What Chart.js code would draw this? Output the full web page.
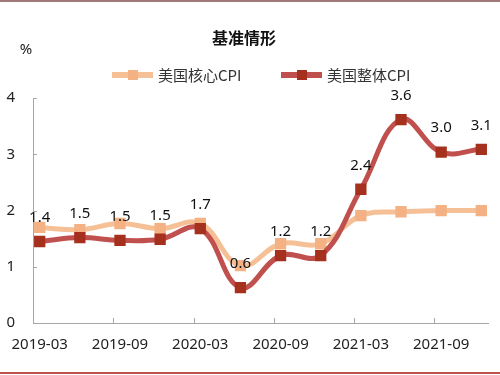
<!DOCTYPE html>
<html>
<head>
<meta charset="utf-8">
<script src="https://cdn.jsdelivr.net/npm/chart.js@4/dist/chart.umd.min.js"></script>
<style>
  html, body { margin: 0; padding: 0; background: #fff; }
  #wrap { width: 500px; height: 375px; }
</style>
</head>
<body>
<div id="wrap"><canvas id="cpi"></canvas></div>
<script>
// quarterly observations
const months = ['2019-03', '2019-06', '2019-09', '2019-12', '2020-03', '2020-06',
                '2020-09', '2020-12', '2021-03', '2021-06', '2021-09', '2021-12'];
const coreCPI = [1.70, 1.66, 1.77, 1.68, 1.77, 1.02, 1.41, 1.41, 1.91, 1.98, 2.00, 2.00];
const headlineCPI = [1.45, 1.52, 1.47, 1.49, 1.68, 0.63, 1.20, 1.20, 2.38, 3.62, 3.04, 3.09];
const headlineLabels = ['1.4', '1.5', '1.5', '1.5', '1.7', '0.6', '1.2', '1.2', '2.4', '3.6', '3.0', '3.1'];
const xTickLabels = ['2019-03', '2019-09', '2020-03', '2020-09', '2021-03', '2021-09'];
const yTicks = [0, 1, 2, 3, 4];

const seriesNames = ['美国核心CPI', '美国整体CPI'];
const coreLine = '#F6C097', coreMark = '#F4B183';
const headLine = '#C0504D', headMark = '#A5301E';
const FONT = "'Noto Sans', 'Noto Sans CJK SC', sans-serif";
const CJK = "'Noto Sans CJK SC', 'Noto Sans', sans-serif";

// months since 2019-03, plotted mid-month
function toMonth(label) {
  const [y, m] = label.split('-').map(Number);
  return (y - 2019) * 12 + (m - 3) + 0.5;
}

const decor = {
  id: 'decor',
  afterDraw(chart) {
    const ctx = chart.ctx;
    const xs = chart.scales.x, ys = chart.scales.y;
    ctx.save();
    // frame lines of the page
    ctx.fillStyle = '#A07878';
    ctx.fillRect(0, 0, 500, 2);
    ctx.fillStyle = '#C0504D';
    ctx.fillRect(0, 372, 500, 2);

    // inward tick marks
    ctx.strokeStyle = '#A6A6A6';
    ctx.lineWidth = 1;
    ctx.beginPath();
    yTicks.forEach(v => {
      const py = Math.round(ys.getPixelForValue(v)) + 0.5;
      ctx.moveTo(xs.left, py);
      ctx.lineTo(xs.left + 4, py);
    });
    xTickLabels.forEach(l => {
      const px = Math.round(xs.getPixelForValue(toMonth(l) - 0.5)) + 0.5;
      ctx.moveTo(px, ys.bottom);
      ctx.lineTo(px, ys.bottom - 5);
    });
    ctx.stroke();

    // unit
    ctx.fillStyle = '#222';
    ctx.font = '15px ' + FONT;
    ctx.textAlign = 'center';
    ctx.textBaseline = 'middle';
    ctx.fillText('%', 26, 50);

    // legend
    const items = [
      { x: 112, line: coreLine, mark: coreMark, text: seriesNames[0] },
      { x: 281, line: headLine, mark: headMark, text: seriesNames[1] }
    ];
    items.forEach(it => {
      const ly = 75;
      ctx.fillStyle = it.line;
      ctx.fillRect(it.x, ly - 3, 41, 6);
      ctx.fillStyle = it.mark;
      ctx.fillRect(it.x + 16, ly - 5, 10, 10);
      ctx.fillStyle = '#333';
      ctx.font = '15px ' + CJK;
      ctx.textAlign = 'left';
      ctx.fillText(it.text, it.x + 46, ly);
    });

    // value labels on the headline series
    const meta = chart.getDatasetMeta(0);
    ctx.fillStyle = '#111';
    ctx.font = '15px ' + FONT;
    ctx.textAlign = 'center';
    meta.data.forEach((pt, i) => {
      ctx.fillText(headlineLabels[i], pt.x, pt.y - 24);
    });
    ctx.restore();
  }
};

new Chart(document.getElementById('cpi'), {
  type: 'line',
  data: {
    datasets: [
      {
        label: seriesNames[1],
        data: months.map((m, i) => ({ x: toMonth(m), y: headlineCPI[i] })),
        borderColor: headLine,
        borderWidth: 5,
        pointStyle: 'rect',
        pointRadius: 8,
        pointBackgroundColor: headMark,
        pointBorderWidth: 0,
        tension: 0.4,
        fill: false
      },
      {
        label: seriesNames[0],
        data: months.map((m, i) => ({ x: toMonth(m), y: coreCPI[i] })),
        borderColor: coreLine,
        borderWidth: 5,
        pointStyle: 'rect',
        pointRadius: 8,
        pointBackgroundColor: coreMark,
        pointBorderWidth: 0,
        tension: 0.4,
        fill: false
      }
    ]
  },
  options: {
    responsive: true,
    maintainAspectRatio: false,
    animation: false,
    layout: { padding: { left: 0, right: 12, top: 0, bottom: 12 } },
    scales: {
      x: {
        type: 'linear',
        min: 0,
        max: 34,
        grid: { display: false },
        border: { display: true, color: '#A6A6A6', width: 1 },
        afterBuildTicks: s => { s.ticks = xTickLabels.map(l => ({ value: toMonth(l) })); },
        afterFit: s => { s.height = 40; },
        ticks: {
          autoSkip: false,
          maxRotation: 0,
          padding: 5,
          color: '#222',
          font: { family: FONT, size: 15 },
          callback: (v, i) => xTickLabels[i]
        }
      },
      y: {
        min: 0,
        max: 4,
        grid: { display: false },
        border: { display: true, color: '#A6A6A6', width: 1 },
        afterBuildTicks: s => { s.ticks = yTicks.map(v => ({ value: v })); },
        afterFit: s => { s.width = 33; },
        ticks: {
          padding: 10,
          color: '#222',
          font: { family: FONT, size: 15 }
        }
      }
    },
    plugins: {
      legend: { display: false },
      tooltip: { enabled: false },
      title: {
        display: true,
        text: '基准情形',
        color: '#111',
        font: { family: CJK, size: 16, weight: 'bold' },
        padding: { top: 28, bottom: 51 }
      }
    }
  },
  plugins: [decor]
});
</script>
</body>
</html>
